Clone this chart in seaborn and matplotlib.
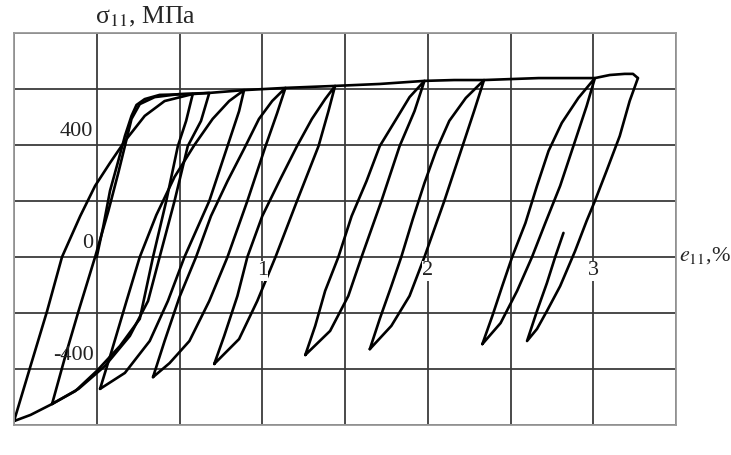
import numpy as np
import pandas as pd
import seaborn as sns
import matplotlib.pyplot as plt

# strain e11 (%) and stress sigma11 (MPa)
first_e = [0, 0.04, 0.08, 0.13, 0.17, 0.21, 0.24, 0.29, 0.38, 0.58]
first_s = [0, 111, 236, 343, 432, 504, 543, 564, 579, 582]

env_e = [0.58, 0.68, 0.89, 1.14, 1.44, 1.71, 1.98, 2.16, 2.34, 2.67, 3.01, 3.10, 3.19, 3.24, 3.27]
env_s = [582, 586, 596, 604, 611, 618, 629, 632, 632, 639, 639, 650, 654, 654, 639]

loop1_e = [-0.50, -0.40, -0.30, -0.21, -0.10, -0.01, 0.08, 0.17, 0.29, 0.41, 0.58,
           0.54, 0.49, 0.42, 0.34, 0.26, 0.14, 0.0, -0.13, -0.27, -0.40, -0.50]
loop1_s = [-586, -389, -193, 0, 146, 254, 336, 414, 504, 557, 582,
           486, 396, 200, 0, -221, -318, -407, -479, -525, -564, -586]

loop2_e = [-0.27, -0.19, -0.11, -0.01, 0.07, 0.13, 0.17, 0.21, 0.26, 0.35, 0.50, 0.68,
           0.63, 0.55, 0.47, 0.38, 0.31, 0.20, 0.05, -0.11, -0.27]
loop2_s = [-525, -354, -193, 0, 164, 300, 396, 493, 546, 571, 582, 586,
           486, 396, 200, 0, -157, -282, -389, -471, -525]

loop3_e = [0.02, 0.09, 0.18, 0.26, 0.36, 0.47, 0.59, 0.70, 0.80, 0.89,
           0.86, 0.79, 0.68, 0.53, 0.43, 0.32, 0.17, 0.02]
loop3_s = [-471, -336, -157, 0, 150, 286, 400, 493, 557, 596,
           521, 396, 200, 0, -157, -300, -414, -471]

loop4_e = [0.34, 0.41, 0.50, 0.60, 0.69, 0.79, 0.89, 0.98, 1.06, 1.14,
           1.09, 1.02, 0.91, 0.79, 0.68, 0.56, 0.44, 0.34]
loop4_s = [-429, -300, -143, 0, 146, 271, 386, 493, 557, 604,
           514, 396, 200, 0, -157, -300, -379, -429]

loop5_e = [0.71, 0.77, 0.85, 0.91, 1.00, 1.11, 1.21, 1.30, 1.38, 1.44,
           1.40, 1.34, 1.21, 1.08, 0.97, 0.86, 0.71]
loop5_s = [-382, -282, -139, 0, 146, 279, 396, 493, 564, 611,
           521, 396, 200, 0, -157, -293, -382]

loop6_e = [1.26, 1.32, 1.38, 1.46, 1.54, 1.63, 1.71, 1.81, 1.89, 1.98,
           1.92, 1.83, 1.72, 1.60, 1.52, 1.41, 1.26]
loop6_s = [-350, -246, -121, 0, 146, 271, 396, 493, 571, 629,
           521, 396, 200, 0, -139, -264, -350]

loop7_e = [1.65, 1.71, 1.78, 1.84, 1.91, 1.98, 2.05, 2.13, 2.23, 2.34,
           2.28, 2.21, 2.10, 1.98, 1.89, 1.78, 1.65]
loop7_s = [-329, -221, -104, 0, 136, 264, 379, 486, 568, 632,
           521, 396, 200, 0, -139, -246, -329]

loop8_e = [2.33, 2.39, 2.45, 2.51, 2.59, 2.66, 2.73, 2.81, 2.91, 3.01,
           2.96, 2.89, 2.80, 2.71, 2.63, 2.54, 2.44, 2.33]
loop8_s = [-311, -211, -104, 0, 121, 254, 379, 479, 568, 639,
           539, 414, 254, 121, 0, -121, -236, -311]

last_e = [3.27, 3.22, 3.16, 3.08, 3.01, 2.96, 2.89, 2.80, 2.72, 2.66, 2.60,
          2.66, 2.72, 2.77, 2.82]
last_s = [639, 557, 432, 307, 200, 129, 21, -104, -193, -257, -300,
          -193, -93, 0, 86]

branches = {
    'first': (first_e, first_s), 'env': (env_e, env_s),
    'l1': (loop1_e, loop1_s), 'l2': (loop2_e, loop2_s), 'l3': (loop3_e, loop3_s),
    'l4': (loop4_e, loop4_s), 'l5': (loop5_e, loop5_s), 'l6': (loop6_e, loop6_s),
    'l7': (loop7_e, loop7_s), 'l8': (loop8_e, loop8_s), 'last': (last_e, last_s),
}
frames = []
for name, (e, s) in branches.items():
    frames.append(pd.DataFrame({'e': e, 's': s, 'branch': name}))
df = pd.concat(frames, ignore_index=True)

x_ticks = np.arange(-0.5, 3.51, 0.5)
y_ticks = np.arange(-600, 801, 200)

sns.set_style('white')
plt.rcParams['font.family'] = ['Liberation Serif', 'DejaVu Serif']
plt.rcParams['mathtext.fontset'] = 'stix'

fig = plt.figure(figsize=(7.31, 4.55), dpi=100)
ax = fig.add_axes([14 / 731, 1 - 425 / 455, 662 / 731, 392 / 455])

sns.lineplot(data=df, x='e', y='s', units='branch', estimator=None, sort=False,
             color='black', lw=1.9, ax=ax)

ax.set_xlim(-0.5, 3.5)
ax.set_ylim(-600, 800)
ax.set_xticks(x_ticks)
ax.set_yticks(y_ticks)
ax.grid(True, color='#3a3a3a', lw=1.3)
ax.tick_params(length=0, labelbottom=False, labelleft=False)
ax.set_xlabel('')
ax.set_ylabel('')
for sp in ax.spines.values():
    sp.set_color('#999999')
    sp.set_linewidth(1.3)

# value labels sit inside the grid, like on the original
for v in [400, 0, -400]:
    ax.text(-0.02, v + 14, str(v), ha='right', va='bottom', fontsize=16, color='#222')
for v in [1, 2, 3]:
    ax.text(v, -16, str(v), ha='center', va='top', fontsize=16, color='#222',
            bbox=dict(facecolor='white', edgecolor='none', pad=0.3))

fig.text(95 / 731, 1 - 17 / 455, 'σ$_{11}$, МПа', ha='left', va='center', fontsize=18.5)
fig.text(679 / 731, 1 - 256 / 455, '$e_{11}$,%', ha='left', va='center', fontsize=16)

fig.savefig('out.png', dpi=100)
